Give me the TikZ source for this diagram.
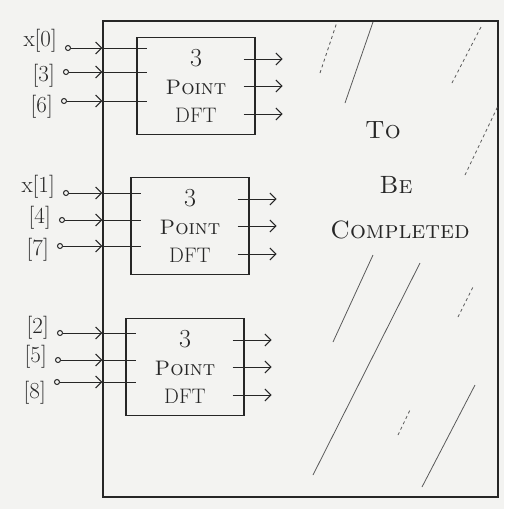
\documentclass[tikz,border=0pt]{standalone}
\usepackage{tikz}
\usetikzlibrary{arrows.meta,positioning,calc}
\definecolor{paper}{HTML}{F3F3F1}
\definecolor{pencil}{HTML}{262626}
\definecolor{faint}{HTML}{5A5A5A}
\tikzset{
  outerbox/.style = {rectangle, draw=pencil, line width=1.4pt, minimum width=395pt, minimum height=476pt, inner sep=0pt},
  dftbox/.style   = {rectangle, draw=pencil, line width=1.2pt, minimum width=118pt, minimum height=97pt,
                     inner sep=0pt, align=center, text=pencil, font=\fontsize{21}{28}\selectfont},
  port/.style     = {circle, draw=pencil, line width=1pt, minimum size=5pt, inner sep=0pt},
  idx/.style      = {font=\fontsize{23}{25}\selectfont, text=pencil, inner sep=1pt, anchor=east},
  note/.style     = {font=\fontsize{25}{27}\selectfont, text=pencil},
  feed/.style     = {-{Straight Barb[length=6pt,width=12pt]}, line width=1pt, draw=pencil},
  wire/.style     = {line width=1pt, draw=pencil},
  hatch/.style    = {line width=0.8pt, draw=faint}
}

\begin{document}
\begin{tikzpicture}[x=1pt,y=-1pt]
  \fill[paper] (0,0) rectangle (504,509);
  \useasboundingbox (0,0) rectangle (504,509);

  \node[outerbox] (box) at (300.5,259) {};

  % the three 3-point blocks
  \node[dftbox] (dft1) at (196,86)  {{\fontsize{26}{26}\selectfont 3}\\\textsc{Point}\\DFT};
  \node[dftbox] (dft2) at (190,226) {{\fontsize{26}{26}\selectfont 3}\\\textsc{Point}\\DFT};
  \node[dftbox] (dft3) at (185,367) {{\fontsize{26}{26}\selectfont 3}\\\textsc{Point}\\DFT};

  % inputs
  \foreach \k/\lab/\cx/\cy/\ly/\b in {0/x[0]/68/48/41/1, 3/[3]/66/72/76/1, 6/[6]/64/101/107/1,
                                       1/x[1]/66/193/187/2, 4/[4]/62/220/218/2, 7/[7]/60/246/250/2,
                                       2/[2]/60/333/328/3, 5/[5]/58/360/357/3, 8/[8]/57/382/393/3} {
    \node[port] (p\k) at (\cx,\cy) {};
    \node[idx] (l\k) at (\cx-10,\ly) {\lab};
    \coordinate (a\k) at (box.west |- p\k);
    \coordinate (e\k) at ($(dft\b.west |- p\k)+(11,0)$);
    \draw[feed] (p\k) -- (a\k);
    \draw[wire] (a\k) -- (e\k);
  }

  % outputs
  \foreach \b in {1,2,3}
    \foreach \dy [count=\j] in {-27,0,28} {
      \coordinate (s\b\j) at ($(dft\b.east)+(-12,\dy)$);
      \coordinate (t\b\j) at ($(dft\b.east)+(27,\dy)$);
      \draw[feed] (s\b\j) -- (t\b\j);
    }

  \node[note] (to)   at (383,130) {\textsc{To}};
  \node[note] (be)   at (396,185) {\textsc{Be}};
  \node[note] (done) at (400,230) {\textsc{Completed}};

  % hatching
  \draw[hatch, dashed] (320,73) -- (337,22);
  \draw[hatch] (345,103) -- (373,22);
  \draw[hatch, dashed] (452,83) -- (482,25);
  \draw[hatch, dashed] (465,175) -- (498,106);
  \draw[hatch] (333,342) -- (373,255);
  \draw[hatch] (313,475) -- (420,263);
  \draw[hatch, dashed] (458,317) -- (473,287);
  \draw[hatch, dashed] (398,435) -- (410,410);
  \draw[hatch] (422,487) -- (475,385);
\end{tikzpicture}
\end{document}
